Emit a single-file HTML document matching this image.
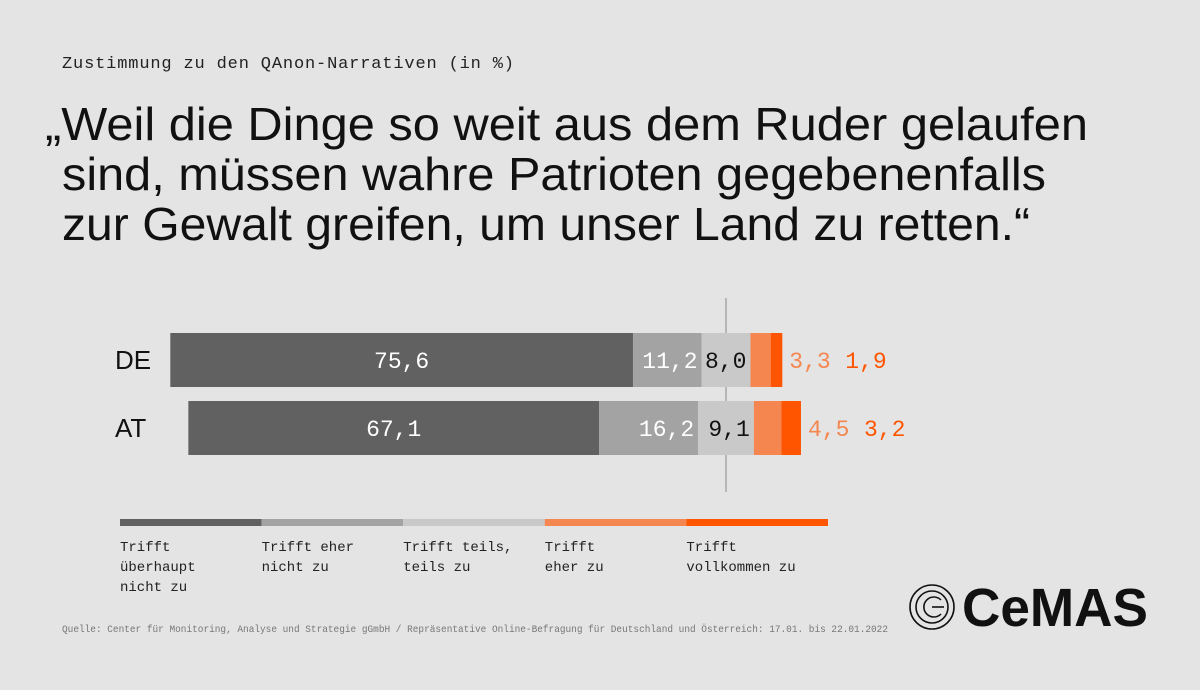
<!DOCTYPE html>
<html><head><meta charset="utf-8"><style>
html,body{margin:0;padding:0;background:#e4e4e4;}
svg{display:block;}
.mono{font-family:"Liberation Mono",monospace;}
.sans{font-family:"Liberation Sans",sans-serif;}
</style></head><body>
<svg id="chart" width="1200" height="690" viewBox="0 0 1200 690">
<rect width="1200" height="690" fill="#e4e4e4"/>
<text x="62" y="68" class="mono" font-size="17" fill="#222" textLength="452">Zustimmung zu den QAnon-Narrativen (in %)</text>
<g class="sans" font-size="46" fill="#111">
<text x="45" y="140" textLength="1043" lengthAdjust="spacingAndGlyphs">„Weil die Dinge so weit aus dem Ruder gelaufen</text>
<text x="62" y="190" textLength="984" lengthAdjust="spacingAndGlyphs">sind, müssen wahre Patrioten gegebenenfalls</text>
<text x="62" y="240" textLength="968" lengthAdjust="spacingAndGlyphs">zur Gewalt greifen, um unser Land zu retten.“</text>
</g>
<line x1="726" y1="298" x2="726" y2="492" stroke="#888" stroke-width="1"/>
<g id="bars"></g>
<g id="legend"></g>
<text x="62" y="632" class="mono" font-size="10.3" fill="#777" textLength="826" lengthAdjust="spacingAndGlyphs">Quelle: Center für Monitoring, Analyse und Strategie gGmbH / Repräsentative Online-Befragung für Deutschland und Österreich: 17.01. bis 22.01.2022</text>
<g>
<g fill="none" stroke="#111" stroke-width="1.6">
<circle cx="932" cy="607" r="22"/><circle cx="932" cy="607" r="16"/>
<path d="M941 600 A10 10 0 1 0 941 614"/><line x1="932" y1="607" x2="944" y2="607"/>
</g>
<text x="962" y="626" class="sans" font-size="54" font-weight="bold" fill="#111" textLength="186" lengthAdjust="spacingAndGlyphs">CeMAS</text>
</g>
</svg>
<script>
const countries=["DE","AT"];
const valDE=[75.6,11.2,8.0,3.3,1.9];
const valAT=[67.1,16.2,9.1,4.5,3.2];
const labelsDE=["75,6","11,2","8,0","3,3","1,9"];
const labelsAT=["67,1","16,2","9,1","4,5","3,2"];
const categories=["Trifft|überhaupt|nicht zu","Trifft eher|nicht zu","Trifft teils,|teils zu","Trifft|eher zu","Trifft|vollkommen zu"];
const colors=["#616161","#a3a3a3","#c9c9c9","#f5864f","#ff5500"];
const textColors=["#fff","#fff","#111"];
const NS="http://www.w3.org/2000/svg";
const cx=726, scale=6.12;
const xs=v=>v*scale;
const gb=document.getElementById('bars');
[valDE,valAT].forEach((vals,ri)=>{
  const labs=ri===0?labelsDE:labelsAT;
  const y=333+ri*68, h=54;
  let x=cx-xs(vals[0]+vals[1]+vals[2]/2);
  const t=document.createElementNS(NS,'text');
  
  
  t.setAttribute('x',115);t.setAttribute('y',y+h/2+9);
  t.setAttribute('class','sans');t.setAttribute('font-size','26');t.setAttribute('fill','#111');
  t.textContent=countries[ri];gb.appendChild(t);
  vals.forEach((v,i)=>{
    const r=document.createElementNS(NS,'rect');
    
    
    r.setAttribute('x',x);r.setAttribute('y',y);r.setAttribute('width',xs(v));r.setAttribute('height',h);
    r.setAttribute('fill',colors[i]);gb.appendChild(r);
    x+=xs(v);
  });
  let xx=cx-xs(vals[0]+vals[1]+vals[2]/2);
  let end=x;
  const lx=[end+7,end+63];
  vals.forEach((v,i)=>{
    const tt=document.createElementNS(NS,'text');
    
    
    tt.setAttribute('class','mono');tt.setAttribute('font-size','23');
    tt.setAttribute('y',y+h/2+8);
    if(i<3){
      tt.setAttribute('x', i===0? xx+xs(v)/2 : xx+xs(v)-4);
      tt.setAttribute('text-anchor', i===0?'middle':'end');
      tt.setAttribute('fill',textColors[i]);
    } else {
      tt.setAttribute('x',lx[i-3]);tt.setAttribute('fill',colors[i]);
    }
    tt.textContent=labs[i];gb.appendChild(tt);
    xx+=xs(v);
  });
});
const gl=document.getElementById('legend');
categories.forEach((c,i)=>{
  const r=document.createElementNS(NS,'rect');
  
  
  r.setAttribute('x',120+i*141.6);r.setAttribute('y',519);r.setAttribute('width',141.6);r.setAttribute('height',7);
  r.setAttribute('fill',colors[i]);gl.appendChild(r);
  c.split('|').forEach((ln,j)=>{
    const t=document.createElementNS(NS,'text');
    
    
    t.setAttribute('x',120+i*141.6);t.setAttribute('y',551+j*20);
    t.setAttribute('class','mono');t.setAttribute('font-size','14');t.setAttribute('fill','#222');
    t.textContent=ln;gl.appendChild(t);
  });
});
</script>
</body></html>
